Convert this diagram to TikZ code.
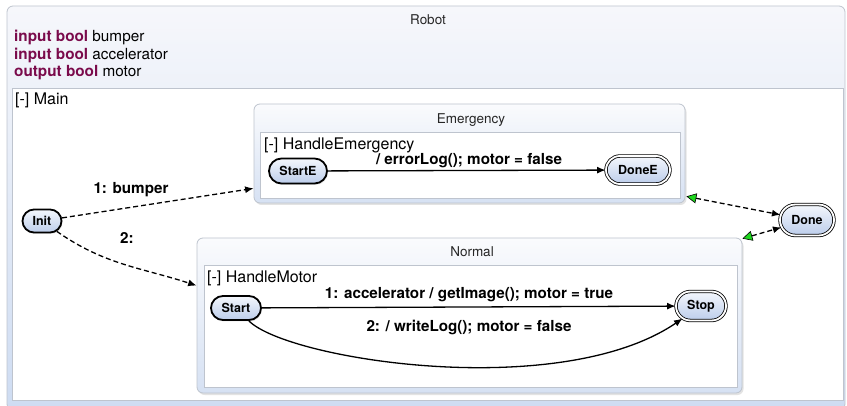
\documentclass[tikz,border=0pt]{standalone}
\usepackage{fontspec}
\setmainfont{TeX Gyre Heros}
\usetikzlibrary{arrows.meta,shapes.misc,shadows}
\definecolor{kw}{RGB}{122,10,75}
\definecolor{stTop}{RGB}{244,247,252}
\definecolor{stBot}{RGB}{188,205,235}
\definecolor{bxTop}{RGB}{250,251,253}
\definecolor{bxBot}{RGB}{214,225,243}
\definecolor{bxLine}{RGB}{190,196,206}
\definecolor{rbTop}{RGB}{246,247,251}
\definecolor{rbBot}{RGB}{206,220,242}
\definecolor{grn}{RGB}{30,215,30}
\tikzset{
  robotbox/.style={rounded corners=6pt, draw=bxLine, line width=0.8pt, top color=rbTop, bottom color=rbBot, inner sep=0pt},
  regionbox/.style={rounded corners=6pt, draw=bxLine, line width=0.8pt, top color=bxTop, bottom color=bxBot, inner sep=0pt,
    drop shadow={opacity=0.22, shadow xshift=1.5pt, shadow yshift=-2pt}},
  innerbox/.style={draw=bxLine, fill=white, line width=0.7pt, inner sep=0pt},
  titletext/.style={font=\fontsize{13.5}{16}\selectfont, text=black!85, inner sep=0pt},
  decltext/.style={font=\fontsize{15.3}{18}\selectfont, inner sep=0pt, anchor=base west},
  regiontext/.style={font=\fontsize{16}{19}\selectfont, inner sep=0pt, anchor=base west},
  statebox/.style={rounded rectangle, draw=black, line width=1.8pt, top color=stTop, bottom color=stBot,
    font=\fontsize{12.5}{14}\selectfont\bfseries, inner sep=0pt,
    drop shadow={opacity=0.2, shadow xshift=1pt, shadow yshift=-1.5pt}},
  finalbox/.style={statebox, line width=0.8pt, double=white, double distance=1.8pt},
  tlabel/.style={font=\fontsize{15.2}{18}\selectfont\bfseries, inner sep=0pt},
  trans/.style={-{Latex[length=8.5pt,width=7pt]}, line width=1.3pt},
  dtrans/.style={trans, dash pattern=on 5pt off 3pt},
  gtrans/.style={{Triangle[length=10pt,width=10pt,fill=grn,line width=0.6pt]}-{Latex[length=8.5pt,width=7pt]}, line width=1.3pt, dash pattern=on 5pt off 3pt}
}
\begin{document}
\begin{tikzpicture}[x=1pt,y=-1pt]
\useasboundingbox (0,0) rectangle (847,406);
% outer Robot box
\node[robotbox, minimum width=838pt, minimum height=404pt] (Robot) at (426,208) {};
\node[titletext] (RobotTitle) at (428,20) {Robot};
\node[decltext] (d1) at (14,42) {\textcolor{kw}{\bfseries input bool} bumper};
\node[decltext] (d2) at (14,60) {\textcolor{kw}{\bfseries input bool} accelerator};
\node[decltext] (d3) at (14,77) {\textcolor{kw}{\bfseries output bool} motor};
% Main region
\node[innerbox, minimum width=831pt, minimum height=312pt] (Main) at (427.5,244) {};
\node[regiontext] (MainLabel) at (15,105) {[-] Main};
% Emergency
\node[regionbox, minimum width=431pt, minimum height=99pt] (Emergency) at (469.5,153.5) {};
\node[titletext, anchor=base] (EmTitle) at (471,124) {Emergency};
\node[innerbox, minimum width=420pt, minimum height=66pt] (HE) at (470,165) {};
\node[regiontext] (HELabel) at (264,149.5) {[-] HandleEmergency};
% Normal
\node[regionbox, minimum width=545pt, minimum height=155pt] (Normal) at (469.5,315.5) {};
\node[titletext, anchor=base] (NoTitle) at (472,257) {Normal};
\node[innerbox, minimum width=533pt, minimum height=122pt] (HM) at (470.5,326) {};
\node[regiontext] (HMLabel) at (207,283) {[-] HandleMotor};
% states
\node[statebox, minimum width=39pt, minimum height=23pt] (Init) at (42,221) {Init};
\node[finalbox, minimum width=54pt, minimum height=31pt] (Done) at (807,220) {Done};
\node[statebox, minimum width=58pt, minimum height=25pt] (StartE) at (298,171) {StartE};
\node[finalbox, minimum width=64pt, minimum height=28pt] (DoneE) at (638,170) {DoneE};
\node[statebox, minimum width=50pt, minimum height=24pt] (Start) at (236,308) {Start};
\node[finalbox, minimum width=50pt, minimum height=29pt] (Stop) at (701,306) {Stop};
% transitions
\draw[trans] (StartE) -- (DoneE);
\node[tlabel] (lE) at (469,161) {/ errorLog(); motor = false};
\draw[trans] (Start) -- (Stop);
\node[tlabel] (lM1) at (469,295) {1: accelerator / getImage(); motor = true};
\draw[trans] (Start) .. controls (288,360) and (560,402) .. (Stop);
\node[tlabel] (lM2) at (469,327) {2: / writeLog(); motor = false};
\draw[dtrans] (Init) -- ([yshift=15pt]Emergency.south west);
\node[tlabel] (lI1) at (131,190) {1: bumper};
\draw[dtrans] (Init) to[out=-35,in=162] ([yshift=-48pt]Normal.north west);
\node[tlabel] (lI2) at (127,238) {2:};
\draw[gtrans] ([xshift=1pt,yshift=7pt]Emergency.south east) -- (Done);
\draw[gtrans] ([xshift=0pt,yshift=-1pt]Normal.north east) -- (Done);
\end{tikzpicture}
\end{document}
